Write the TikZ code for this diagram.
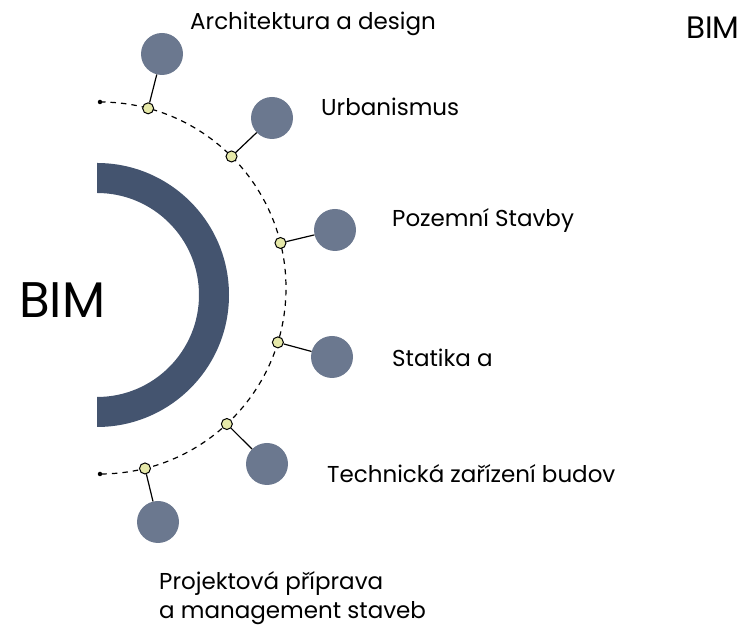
\documentclass[tikz,border=0pt]{standalone}
\usepackage{fontspec}
\setmainfont{Poppins}
\usepackage{tikz}
\usetikzlibrary{calc}
\definecolor{bimarc}{HTML}{44546F}
\definecolor{bimball}{HTML}{6B788F}
\definecolor{bimdot}{HTML}{E6E9A9}
\tikzstyle{label} = [anchor=west, inner sep=0pt, font=\fontsize{23}{29}\selectfont]
\tikzset{
  % node styles
  ball/.style={circle, fill=bimball, minimum size=42pt, inner sep=0pt},
  joint/.style={circle, draw=black, fill=bimdot, line width=1pt, minimum size=11pt, inner sep=0pt},
  tip/.style={circle, fill=black, minimum size=4.5pt, inner sep=0pt},
  % edge styles
  stem/.style={draw, line width=1.2pt},
}
\begin{document}
\begin{tikzpicture}[x=1pt, y=1pt]
        \useasboundingbox (0,0) rectangle (748,628);
        % thick half ring
        \coordinate (R) at (97,333);
        \fill[bimarc] ($(R)+(0,132)$) arc[start angle=90, end angle=-90, radius=132]
            -- ($(R)+(0,-102)$) arc[start angle=-90, end angle=90, radius=102] -- cycle;
        \node(BIM)[anchor=west, inner sep=0pt, font=\fontsize{50}{54}\selectfont] at (19,328) {BIM};
        % dashed orbit
        \coordinate (C) at (100,340);
        \draw[line width=1.2pt, dash pattern=on 5.5pt off 5pt] ($(C)+(90:186)$) arc[start angle=90, end angle=-90, radius=186];
        \node(T1)[tip] at ($(C)+(90:186)$) {};
        \node(T2)[tip] at ($(C)+(-90:186)$) {};
        % joints on the orbit
        \node(J1)[joint] at ($(C)+(75:186)$) {};
        \node(J2)[joint] at ($(C)+(45:186)$) {};
        \node(J3)[joint] at ($(C)+(14:186)$) {};
        \node(J4)[joint] at ($(C)+(-17:186)$) {};
        \node(J5)[joint] at ($(C)+(-47:186)$) {};
        \node(J6)[joint] at ($(C)+(-76:186)$) {};
        % balls
        \node(B1)[ball] at (162,574) {};
        \node(B2)[ball] at (272,510) {};
        \node(B3)[ball] at (335,398) {};
        \node(B4)[ball] at (332,271) {};
        \node(B5)[ball] at (267,164) {};
        \node(B6)[ball] at (158,106) {};
        % stems
        \draw[stem] (J1) -- (B1);
        \draw[stem] (J2) -- (B2);
        \draw[stem] (J3) -- (B3);
        \draw[stem] (J4) -- (B4);
        \draw[stem] (J5) -- (B5);
        \draw[stem] (J6) -- (B6);
        % labels
        \node(L1)[label] at (190,604) {Architektura a design};
        \node(L2)[label] at (321,521) {Urbanismus};
        \node(L3)[label] at (392,408) {Pozemní Stavby};
        \node(L4)[label] at (392,270) {Statika a};
        \node(L5)[label] at (327,154) {Technická zařízení budov};
        \node(L6)[label, align=left] at (159,30) {Projektová příprava\\a management staveb};
        \node(BIMs)[label, font=\fontsize{31}{34}\selectfont] at (686,600) {BIM};
\end{tikzpicture}
\end{document}
